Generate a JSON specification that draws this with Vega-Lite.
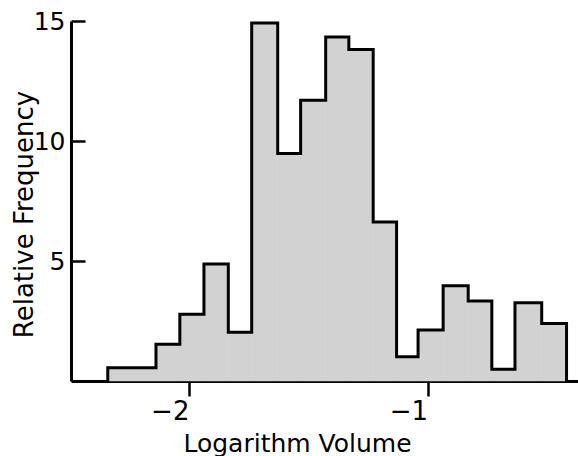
{
  "$schema": "https://vega.github.io/schema/vega-lite/v6.json",
  "width": 507,
  "height": 360,
  "autosize": "none",
  "padding": {"left": 71, "top": 21, "right": 0, "bottom": 75},
  "background": "white",
  "config": {"view": {"stroke": null}, "font": "DejaVu Sans"},
  "datasets": {
    "bars": [
      {"x0": -2.34, "x1": -2.138, "freq": 0.55},
      {"x0": -2.138, "x1": -2.038, "freq": 1.53},
      {"x0": -2.038, "x1": -1.937, "freq": 2.78},
      {"x0": -1.937, "x1": -1.835, "freq": 4.88},
      {"x0": -1.835, "x1": -1.737, "freq": 2.03},
      {"x0": -1.737, "x1": -1.628, "freq": 14.92},
      {"x0": -1.628, "x1": -1.532, "freq": 9.48},
      {"x0": -1.532, "x1": -1.427, "freq": 11.7},
      {"x0": -1.427, "x1": -1.33, "freq": 14.33},
      {"x0": -1.33, "x1": -1.228, "freq": 13.81},
      {"x0": -1.228, "x1": -1.13, "freq": 6.63},
      {"x0": -1.13, "x1": -1.04, "freq": 1.01},
      {"x0": -1.04, "x1": -0.935, "freq": 2.12},
      {"x0": -0.935, "x1": -0.83, "freq": 3.97},
      {"x0": -0.83, "x1": -0.731, "freq": 3.33},
      {"x0": -0.731, "x1": -0.634, "freq": 0.49},
      {"x0": -0.634, "x1": -0.522, "freq": 3.26},
      {"x0": -0.522, "x1": -0.418, "freq": 2.4}
    ],
    "outline": [
      {"edge": -2.34, "freq": 0},
      {"edge": -2.34, "freq": 0.55},
      {"edge": -2.138, "freq": 1.53},
      {"edge": -2.038, "freq": 2.78},
      {"edge": -1.937, "freq": 4.88},
      {"edge": -1.835, "freq": 2.03},
      {"edge": -1.737, "freq": 14.92},
      {"edge": -1.628, "freq": 9.48},
      {"edge": -1.532, "freq": 11.7},
      {"edge": -1.427, "freq": 14.33},
      {"edge": -1.33, "freq": 13.81},
      {"edge": -1.228, "freq": 6.63},
      {"edge": -1.13, "freq": 1.01},
      {"edge": -1.04, "freq": 2.12},
      {"edge": -0.935, "freq": 3.97},
      {"edge": -0.83, "freq": 3.33},
      {"edge": -0.731, "freq": 0.49},
      {"edge": -0.634, "freq": 3.26},
      {"edge": -0.522, "freq": 2.4},
      {"edge": -0.418, "freq": 0}
    ]
  },
  "layer": [
    {
      "data": {"name": "bars"},
      "mark": {"type": "rect", "fill": "#d2d2d2", "stroke": "#d2d2d2", "strokeWidth": 0.5},
      "encoding": {
        "x": {
          "field": "x0", "type": "quantitative",
          "scale": {"domain": [-2.494, -0.37], "nice": false, "zero": false},
          "axis": {
            "title": "Logarithm Volume",
            "values": [-2, -1],
            "format": "d",
            "grid": false,
            "domainColor": "black", "domainWidth": 3,
            "tickColor": "black", "tickWidth": 2.5, "tickSize": 15,
            "labelFont": "DejaVu Sans", "labelFontSize": 26, "labelColor": "black",
            "labelAlign": "right", "labelDx": 6, "labelPadding": 2,
            "titleFont": "DejaVu Sans", "titleFontSize": 25, "titleFontWeight": "normal", "titleColor": "black",
            "titleX": 226, "titleY": 70, "titleBaseline": "alphabetic"
          }
        },
        "x2": {"field": "x1"},
        "y": {
          "field": "freq", "type": "quantitative",
          "scale": {"domain": [0, 15], "nice": false},
          "axis": {
            "title": "Relative Frequency",
            "values": [5, 10, 15],
            "format": "d",
            "grid": false,
            "domainColor": "black", "domainWidth": 3,
            "tickColor": "black", "tickWidth": 2.5, "tickSize": -14,
            "labelFont": "DejaVu Sans", "labelFontSize": 25, "labelColor": "black",
            "labelPadding": 20,
            "titleFont": "DejaVu Sans", "titleFontSize": 26, "titleFontWeight": "normal", "titleColor": "black",
            "titleX": -39, "titleY": 193, "titleBaseline": "alphabetic"
          }
        },
        "y2": {"datum": 0}
      }
    },
    {
      "data": {"name": "outline"},
      "mark": {"type": "line", "interpolate": "step-after", "color": "black", "strokeWidth": 3, "strokeJoin": "miter", "strokeCap": "square"},
      "encoding": {
        "x": {"field": "edge", "type": "quantitative"},
        "y": {"field": "freq", "type": "quantitative"},
        "order": {"value": null}
      }
    }
  ]
}
